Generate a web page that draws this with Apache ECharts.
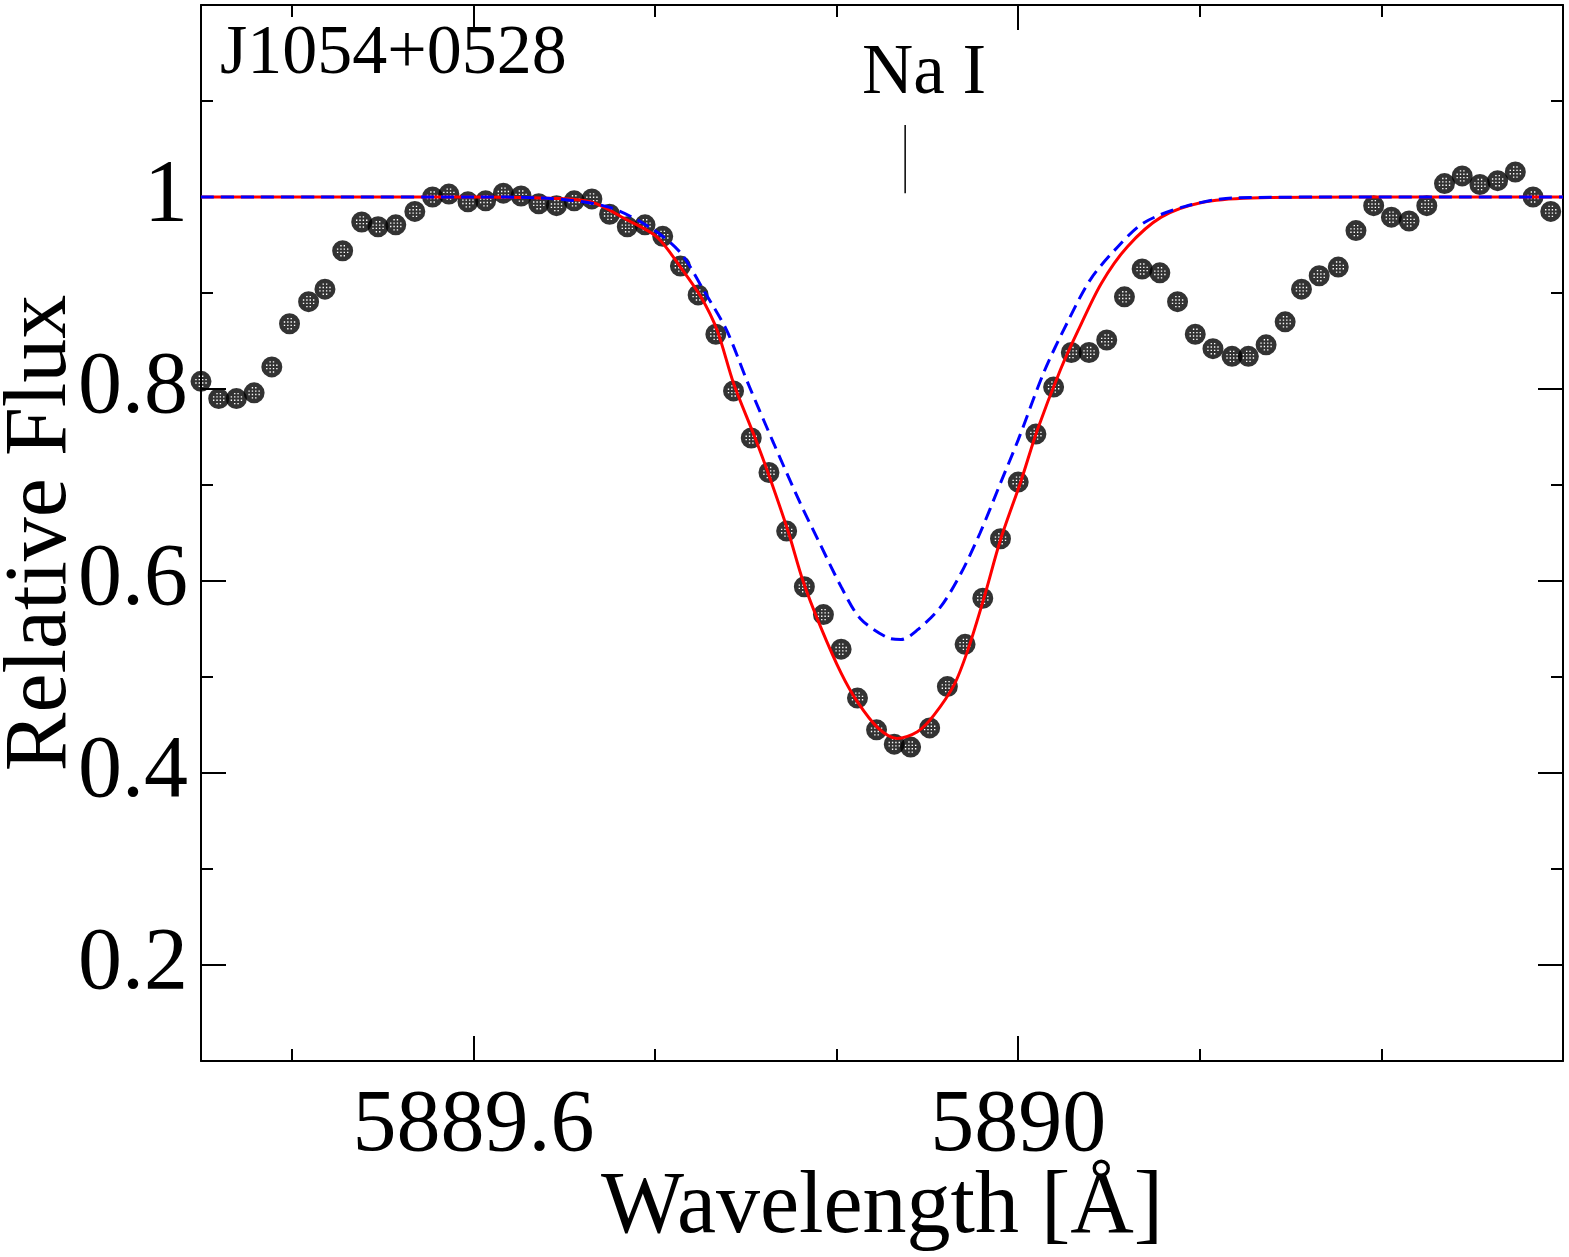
<!DOCTYPE html>
<html>
<head>
<meta charset="utf-8">
<script src="https://cdn.jsdelivr.net/npm/echarts@6/dist/echarts.min.js"></script>
<style>
  html, body { margin: 0; padding: 0; background: #fff; }
  #main { width: 1569px; height: 1257px; }
</style>
</head>
<body>
<div id="main"></div>
<script>
// observed spectrum (wavelength in A, relative flux)
var obsWave = [5889.400, 5889.413, 5889.426, 5889.439, 5889.452, 5889.465, 5889.479, 5889.491, 5889.504, 5889.518,
               5889.530, 5889.543, 5889.557, 5889.570, 5889.582, 5889.596, 5889.609, 5889.622, 5889.635, 5889.648,
               5889.661, 5889.674, 5889.687, 5889.700, 5889.713, 5889.726, 5889.739, 5889.752, 5889.765, 5889.778,
               5889.791, 5889.804, 5889.817, 5889.830, 5889.843, 5889.857, 5889.870, 5889.882, 5889.896, 5889.909,
               5889.921, 5889.935, 5889.948, 5889.961, 5889.974, 5889.987, 5890.000, 5890.013, 5890.026, 5890.039,
               5890.052, 5890.065, 5890.078, 5890.091, 5890.104, 5890.117, 5890.130, 5890.143, 5890.157, 5890.169,
               5890.182, 5890.196, 5890.208, 5890.221, 5890.235, 5890.248, 5890.261, 5890.274, 5890.287, 5890.300,
               5890.313, 5890.326, 5890.339, 5890.352, 5890.365, 5890.378, 5890.391];
var obsFlux = [0.808, 0.790, 0.790, 0.796, 0.823, 0.868, 0.891, 0.904, 0.944, 0.974,
               0.969, 0.971, 0.985, 1.000, 1.003, 0.995, 0.996, 1.004, 1.001, 0.993,
               0.991, 0.996, 0.998, 0.982, 0.969, 0.971, 0.959, 0.928, 0.898, 0.857,
               0.798, 0.749, 0.713, 0.652, 0.594, 0.565, 0.529, 0.478, 0.445, 0.430,
               0.427, 0.447, 0.490, 0.534, 0.582, 0.644, 0.703, 0.753, 0.802, 0.838,
               0.838, 0.851, 0.896, 0.925, 0.921, 0.891, 0.857, 0.842, 0.834, 0.834,
               0.846, 0.870, 0.904, 0.918, 0.927, 0.965, 0.991, 0.979, 0.975, 0.991,
               1.014, 1.022, 1.013, 1.017, 1.026, 1.000, 0.985];

// best fit model (red, solid)
var redWave = [5889.400, 5889.500, 5889.600, 5889.649, 5889.686, 5889.713, 5889.735, 5889.752, 5889.767, 5889.779,
               5889.791, 5889.806, 5889.816, 5889.831, 5889.842, 5889.855, 5889.870, 5889.882, 5889.897, 5889.911,
               5889.926, 5889.938, 5889.953, 5889.963, 5889.975, 5889.987, 5890.002, 5890.014, 5890.031, 5890.044,
               5890.061, 5890.080, 5890.105, 5890.134, 5890.171, 5890.250, 5890.330, 5890.400];
var redFlux = [1.000, 1.000, 1.000, 0.999, 0.995, 0.976, 0.958, 0.927, 0.896, 0.861,
               0.806, 0.752, 0.714, 0.652, 0.600, 0.552, 0.504, 0.474, 0.447, 0.436,
               0.443, 0.460, 0.492, 0.528, 0.583, 0.643, 0.704, 0.757, 0.820, 0.861,
               0.910, 0.948, 0.979, 0.994, 0.999, 1.000, 1.000, 1.000];

// alternative model (blue, dashed)
var blueWave = [5889.400, 5889.500, 5889.600, 5889.649, 5889.698, 5889.730, 5889.752, 5889.769, 5889.786, 5889.801,
                5889.820, 5889.840, 5889.853, 5889.870, 5889.884, 5889.904, 5889.914, 5889.926, 5889.943, 5889.958,
                5889.972, 5889.987, 5890.000, 5890.019, 5890.036, 5890.053, 5890.073, 5890.092, 5890.122, 5890.158,
                5890.250, 5890.330, 5890.400];
var blueFlux = [1.000, 1.000, 1.000, 0.999, 0.990, 0.968, 0.942, 0.903, 0.861, 0.808,
                0.745, 0.681, 0.643, 0.594, 0.561, 0.541, 0.539, 0.549, 0.573, 0.608,
                0.650, 0.702, 0.747, 0.818, 0.869, 0.914, 0.948, 0.973, 0.990, 0.999,
                1.000, 1.000, 1.000];

// Na I line marker
var lineMarkWave = [5889.917, 5889.917];
var lineMarkFlux = [1.004, 1.075];

// ticks
var xMajor = [5889.6, 5890.0];
var xMinor = [5889.4667, 5889.7333, 5889.8667, 5890.1333, 5890.2667];
var yMajor = [0.2, 0.4, 0.6, 0.8, 1.0];
var yMinor = [0.3, 0.5, 0.7, 0.9, 1.1];

function pairs(xs, ys) {
  var out = [];
  for (var i = 0; i < xs.length; i++) out.push([xs[i], ys[i]]);
  return out;
}

// black disc with a grid of small white holes
function dotSymbol() {
  var p = 'path://M10,0 A10,10 0 1,1 10,20 A10,10 0 1,1 10,0 Z';
  var c = [5.2, 8.4, 11.6, 14.8];
  for (var i = 0; i < 4; i++) {
    for (var j = 0; j < 4; j++) {
      if ((i == 0 || i == 3) && (j == 0 || j == 3)) continue;
      var x0 = c[i] - 0.65, y0 = c[j] - 0.65;
      p += ' M' + x0 + ',' + y0 + ' v1.3 h1.3 v-1.3 Z';
    }
  }
  return p;
}

var FONT = 'Liberation Serif';
var myChart = echarts.init(document.getElementById('main'));

function xAx(pos, ticks, len, showLine, labels) {
  return {
    type: 'value', position: pos, min: 5889.4, max: 5890.4,
    axisLine: { show: showLine, onZero: false, lineStyle: { color: '#000', width: 2 } },
    axisTick: { show: true, inside: true, length: len, customValues: ticks, lineStyle: { color: '#000', width: 2 } },
    axisLabel: labels ? {
      show: true, customValues: ticks, margin: 22, color: '#000',
      fontFamily: FONT, fontSize: 88,
      formatter: function (v) { return v == 5890 ? '5890' : v.toFixed(1); }
    } : { show: false },
    splitLine: { show: false },
    name: labels ? 'Wavelength [\u00C5]' : '',
    nameLocation: 'middle', nameGap: 104, nameMoveOverlap: false,
    nameTextStyle: { fontFamily: FONT, fontSize: 88, color: '#000' }
  };
}

function yAx(pos, ticks, len, showLine, labels) {
  return {
    type: 'value', position: pos, min: 0.1, max: 1.2,
    axisLine: { show: showLine, onZero: false, lineStyle: { color: '#000', width: 2 } },
    axisTick: { show: true, inside: true, length: len, customValues: ticks, lineStyle: { color: '#000', width: 2 } },
    axisLabel: labels ? {
      show: true, customValues: ticks, margin: 13, color: '#000',
      fontFamily: FONT, fontSize: 88,
      formatter: function (v) { return v == 1 ? '1' : v.toFixed(1); }
    } : { show: false },
    splitLine: { show: false },
    name: labels ? 'Relative Flux' : '',
    nameLocation: 'middle', nameGap: 115, nameMoveOverlap: false,
    nameTextStyle: { fontFamily: FONT, fontSize: 88, color: '#000' }
  };
}

var option = {
  backgroundColor: '#fff',
  animation: false,
  grid: { left: 201, right: 6, top: 5, bottom: 196, outerBoundsMode: 'none', containLabel: false },
  xAxis: [
    xAx('bottom', xMajor, 25, true, true),
    xAx('bottom', xMinor, 12, false, false),
    xAx('top', xMajor, 25, true, false),
    xAx('top', xMinor, 12, false, false)
  ],
  yAxis: [
    yAx('left', yMajor, 25, true, true),
    yAx('left', yMinor, 12, false, false),
    yAx('right', yMajor, 25, true, false),
    yAx('right', yMinor, 12, false, false)
  ],
  graphic: [
    { type: 'text', left: 220, top: 20, z: 10,
      style: { text: 'J1054+0528', font: '70px "Liberation Serif"', fill: '#000' } },
    { type: 'text', left: 862, top: 39, z: 10,
      style: { text: 'Na I', font: '71px "Liberation Serif"', fill: '#000' } }
  ],
  series: [
    {
      name: 'observed', type: 'scatter', z: 2,
      symbol: dotSymbol(), symbolSize: 21,
      itemStyle: { color: '#000' },
      data: pairs(obsWave, obsFlux)
    },
    {
      name: 'fit', type: 'line', z: 3, showSymbol: false, smooth: 0.3,
      lineStyle: { color: '#ff0000', width: 3 },
      data: pairs(redWave, redFlux)
    },
    {
      name: 'alt', type: 'line', z: 4, showSymbol: false, smooth: 0.3,
      lineStyle: { color: '#0000ff', width: 3, type: [13, 7] },
      data: pairs(blueWave, blueFlux)
    },
    {
      name: 'NaI', type: 'line', z: 4, showSymbol: false,
      lineStyle: { color: '#000', width: 1.5 },
      data: pairs(lineMarkWave, lineMarkFlux)
    }
  ]
};

myChart.setOption(option);
</script>
</body>
</html>
